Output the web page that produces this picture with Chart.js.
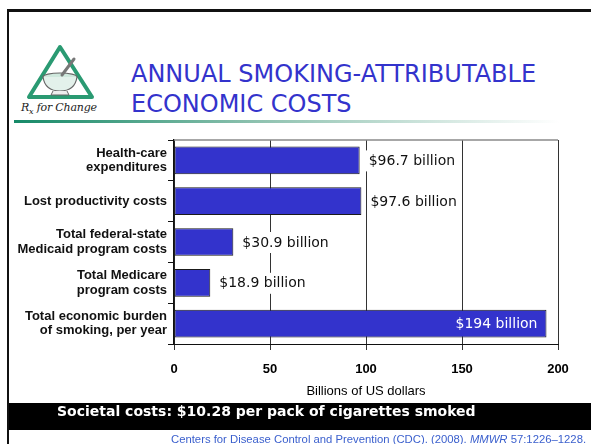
<!DOCTYPE html>
<html>
<head>
<meta charset="utf-8">
<script src="https://cdn.jsdelivr.net/npm/chart.js@4.4.1/dist/chart.umd.min.js"></script>
<style>
  html, body { margin: 0; padding: 0; background: #fff; }
  body { width: 591px; height: 444px; position: relative; overflow: hidden; }
  #chart { position: absolute; left: 0; top: 0; width: 591px; height: 444px; }
  .abs { position: absolute; }
  #topline { left: 7px; top: 9px; width: 584px; height: 3px; background: #111; }
  #leftline { left: 7px; top: 9px; width: 2px; height: 435px; background: #111; }
  #title { left: 131px; top: 59px; color: #3333CC; font: 24px "DejaVu Sans", sans-serif; line-height: 30px; white-space: nowrap; }
  #rule { left: 14px; top: 120px; width: 545px; height: 3px; background: linear-gradient(to right, #168a68, #8fc2b0 45%, #ffffff); }
  #band { left: 9px; top: 403px; width: 582px; height: 27px; background: #000; }
  #bandtext { left: 57px; top: 403px; height: 27px; line-height: 27px; color: #fff; font: bold 14px "DejaVu Sans", sans-serif; white-space: nowrap; }
  #cite { left: 171px; top: 433px; color: #3a5fcd; font: 11.3px "Liberation Sans", Arial, sans-serif; white-space: nowrap; }
  #logo { left: 19px; top: 41px; }
  #rx { left: 21px; top: 101px; font: italic 11px "DejaVu Serif", serif; color: #222; white-space: nowrap; letter-spacing: -0.2px; }
</style>
</head>
<body>
<div class="abs" id="topline"></div>
<div class="abs" id="leftline"></div>
<svg class="abs" id="logo" width="82" height="62" viewBox="0 0 82 62">
  <polygon points="41,6 10,56 73,56" fill="none" stroke="#2a9a72" stroke-width="4" stroke-linejoin="round"/>
  <ellipse cx="41" cy="36" rx="17" ry="4" fill="#cfe8dd" stroke="#666" stroke-width="1.2"/>
  <path d="M24,36 Q26,50 41,50 Q56,50 58,36" fill="#e3f1eb" stroke="#666" stroke-width="1.2"/>
  <path d="M34,50 L32,54 L50,54 L48,50" fill="#eee" stroke="#666" stroke-width="1"/>
  <line x1="43" y1="34" x2="55" y2="18" stroke="#777" stroke-width="3" stroke-linecap="round"/>
</svg>
<div class="abs" id="rx">R<sub style="font-size:8px">x</sub> for Change</div>
<div class="abs" id="title">ANNUAL SMOKING-ATTRIBUTABLE<br>ECONOMIC COSTS</div>
<div class="abs" id="rule"></div>
<canvas id="chart" width="591" height="444"></canvas>
<div class="abs" id="band"></div>
<div class="abs" id="bandtext">Societal costs: $10.28 per pack of cigarettes smoked</div>
<div class="abs" id="cite">Centers for Disease Control and Prevention (CDC). (2008). <i>MMWR</i> 57:1226–1228.</div>
<script>
const categories = [
  ["Health-care", "expenditures"],
  ["Lost productivity costs"],
  ["Total federal-state", "Medicaid program costs"],
  ["Total Medicare", "program costs"],
  ["Total economic burden", "of smoking, per year"]
];
const costs = [96.7, 97.6, 30.9, 18.9, 194];
const valueLabels = ["$96.7 billion", "$97.6 billion", "$30.9 billion", "$18.9 billion", "$194 billion"];
const xTickValues = [0, 50, 100, 150, 200];
const xAxisTitle = "Billions of US dollars";

const labelPlugin = {
  id: 'valueLabels',
  afterDatasetsDraw(chart) {
    const ctx = chart.ctx;
    const meta = chart.getDatasetMeta(0);
    ctx.save();
    ctx.font = '14px "DejaVu Sans", sans-serif';
    ctx.textBaseline = 'middle';
    meta.data.forEach((bar, i) => {
      const inside = i === meta.data.length - 1;
      if (inside) {
        ctx.fillStyle = '#ffffff';
        ctx.textAlign = 'right';
        ctx.fillText(valueLabels[i], bar.x - 9, bar.y + 1);
      } else {
        const w = ctx.measureText(valueLabels[i]).width;
        ctx.fillStyle = '#ffffff';
        ctx.fillRect(bar.x + 6, bar.y - 10, w + 6, 21);
        ctx.fillStyle = '#111111';
        ctx.textAlign = 'left';
        ctx.fillText(valueLabels[i], bar.x + 9, bar.y + 1);
      }
    });
    ctx.restore();
  }
};

const framePlugin = {
  id: 'frame',
  afterDraw(chart) {
    const a = chart.chartArea;
    const ctx = chart.ctx;
    ctx.save();
    ctx.strokeStyle = '#8a8a8a';
    ctx.lineWidth = 1.5;
    ctx.beginPath();
    ctx.moveTo(a.left, a.top);
    ctx.lineTo(a.right, a.top);
    ctx.stroke();
    ctx.restore();
  }
};

new Chart(document.getElementById('chart'), {
  type: 'bar',
  data: {
    labels: categories,
    datasets: [{
      data: costs,
      backgroundColor: '#3333CC',
      borderColor: '#1a1a1a',
      borderWidth: 1,
      borderSkipped: false,
      barPercentage: 0.68,
      categoryPercentage: 1.0
    }]
  },
  options: {
    indexAxis: 'y',
    responsive: false,
    animation: false,
    layout: { padding: { left: 0, top: 140, right: 33, bottom: 45 } },
    plugins: { legend: { display: false }, tooltip: { enabled: false } },
    scales: {
      x: {
        min: 0, max: 200,
        afterBuildTicks(scale) { scale.ticks = xTickValues.map(v => ({ value: v })); },
        afterFit(scale) { scale.height = 55; },
        ticks: { color: '#000', font: { family: '"Liberation Sans", Arial, sans-serif', size: 13, weight: 'bold' }, padding: 12 },
        grid: { color: '#333', lineWidth: 1, tickLength: 6, drawTicks: true },
        border: { display: true, color: '#111', width: 1 },
        title: { display: true, text: xAxisTitle, color: '#000', font: { family: '"Liberation Sans", Arial, sans-serif', size: 13 }, padding: { top: 4, bottom: 0 } }
      },
      y: {
        afterFit(scale) { scale.width = 174; },
        ticks: { color: '#111', font: { family: '"Liberation Sans", Arial, sans-serif', size: 13, weight: 'bold', lineHeight: 1.1 }, padding: 1 },
        grid: { drawOnChartArea: false, offset: true, color: '#111', tickLength: 6 },
        border: { display: true, color: '#111', width: 1.5 }
      }
    }
  },
  plugins: [labelPlugin, framePlugin]
});
</script>
</body>
</html>
